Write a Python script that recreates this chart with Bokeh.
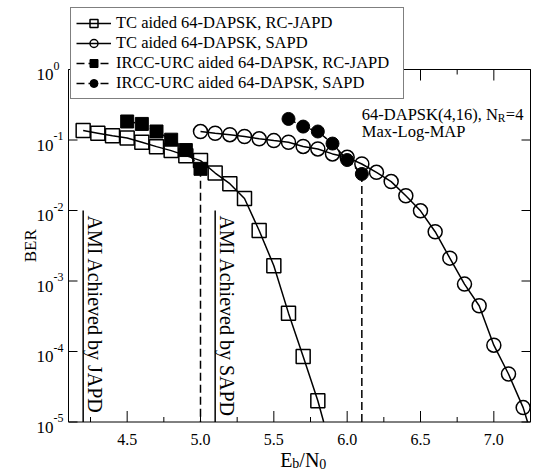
from math import pi, log10
from bokeh.plotting import figure
from bokeh.models import Legend, LegendItem, Range1d
from bokeh.core.properties import value
from bokeh.embed import file_html
from bokeh.resources import INLINE

FONT = "Liberation Serif"

# ---------------- data ----------------
tc_japd_x = [4.2, 4.3, 4.4, 4.5, 4.6, 4.7, 4.8, 4.9, 5.0, 5.1, 5.2, 5.3, 5.4, 5.5, 5.6, 5.7, 5.8]
tc_japd_ber = [0.136, 0.125, 0.115, 0.107, 0.093, 0.0805, 0.0707, 0.060, 0.051, 0.034,
               0.024, 0.0148, 0.0052, 0.00165, 0.00035, 8.5e-5, 2.0e-5]
tc_japd_end = (5.84, 1e-5)

tc_sapd_x = [5.0, 5.1, 5.2, 5.3, 5.4, 5.5, 5.6, 5.7, 5.8, 5.9, 6.0, 6.1, 6.2, 6.3, 6.4,
             6.5, 6.6, 6.7, 6.8, 6.9, 7.0, 7.1, 7.2]
tc_sapd_ber = [0.1316, 0.1245, 0.119, 0.112, 0.104, 0.098, 0.093, 0.081, 0.0747, 0.0635,
               0.0568, 0.0457, 0.0348, 0.0257, 0.0162, 0.0099, 0.0050, 0.00211, 0.000903,
               0.000445, 0.000123, 4.8e-5, 1.6e-5]
tc_sapd_end = (7.23, 1e-5)

ircc_japd_x = [4.5, 4.6, 4.7, 4.8, 4.9, 5.0]
ircc_japd_ber = [0.183, 0.169, 0.132, 0.101, 0.072, 0.039]

ircc_sapd_x = [5.6, 5.7, 5.8, 5.9, 6.0, 6.1]
ircc_sapd_ber = [0.199, 0.155, 0.132, 0.089, 0.052, 0.033]

ami_x = [4.2, 5.1]
ami_top = 1e-2
ami_labels = ["AMI Achieved by JAPD", "AMI Achieved by SAPD"]

legend_labels = ["TC aided 64-DAPSK, RC-JAPD", "TC aided 64-DAPSK, SAPD",
                 "IRCC-URC aided 64-DAPSK, RC-JAPD", "IRCC-URC aided 64-DAPSK, SAPD"]

x_major = [4.5, 5.0, 5.5, 6.0, 6.5, 7.0]
x_major_labels = ["4.5", "5.0", "5.5", "6.0", "6.5", "7.0"]
x_minor = [4.25, 4.75, 5.25, 5.75, 6.25, 6.75, 7.25]
y_ticks = [1e-5, 1e-4, 1e-3, 1e-2, 1e-1, 1.0]
x_lim = (4.1, 7.25)
y_lim = (1e-5, 1.0)

# ---------------- canvas geometry (axes box inside a full-canvas frame) ----------------
W, H = 537, 472
box_left, box_right = 68, 530          # pixels of x_lim
box_top, box_bottom = 69, 421.5        # pixels of y_lim
px_per_x = (box_right - box_left) / (x_lim[1] - x_lim[0])
px_per_dec = (box_bottom - box_top) / (log10(y_lim[1]) - log10(y_lim[0]))
view_x = (x_lim[0] - box_left / px_per_x, x_lim[1] + (W - box_right) / px_per_x)
view_y = (10 ** (log10(y_lim[0]) - (H - box_bottom) / px_per_dec),
          10 ** (log10(y_lim[1]) + box_top / px_per_dec))

p = figure(width=W, height=H, x_range=Range1d(*view_x), y_range=Range1d(*view_y),
           y_axis_type="log", x_axis_location=None, y_axis_location=None,
           output_backend="svg", toolbar_location=None, min_border=0)
p.grid.visible = False
p.outline_line_color = None
p.background_fill_color = "white"
p.border_fill_color = "white"

# ---------------- axes box, ticks and tick labels ----------------
p.line([x_lim[0], x_lim[0], x_lim[1], x_lim[1], x_lim[0]],
       [y_lim[1], y_lim[0], y_lim[0], y_lim[1], y_lim[1]], line_color="black", line_width=1)
for ys, ang in ((y_lim[0], pi / 2), (y_lim[1], -pi / 2)):
    p.ray(x=x_major, y=[ys] * len(x_major), length=11, angle=ang, length_units="screen",
          line_color="black", line_width=1)
    p.ray(x=x_minor, y=[ys] * len(x_minor), length=5, angle=ang, length_units="screen",
          line_color="black", line_width=1)
for xs, ang in ((x_lim[0], 0.0), (x_lim[1], pi)):
    p.ray(x=[xs] * len(y_ticks), y=y_ticks, length=9, angle=ang, length_units="screen",
          line_color="black", line_width=1)

p.text(x=x_major, y=[y_lim[0]] * len(x_major), text=x_major_labels, y_offset=17,
       text_align="center", text_baseline="alphabetic", text_font=value(FONT),
       text_font_size="16px", text_color="black")

y_exponents = [str(int(round(log10(t)))) for t in y_ticks]
p.text(x=[x_lim[0]] * len(y_ticks), y=y_ticks, text=["10"] * len(y_ticks),
       x_offset=-15, y_offset=5, text_align="right", text_baseline="alphabetic",
       text_font=value(FONT), text_font_size="17px", text_color="black")
p.text(x=[x_lim[0]] * len(y_ticks), y=y_ticks, text=y_exponents,
       x_offset=-15, y_offset=-4, text_align="left", text_baseline="alphabetic",
       text_font=value(FONT), text_font_size="12px", text_color="black")

# axis titles
p.text(x=[x_lim[0]], y=[10 ** -2.5], text=["BER"], x_offset=-38, angle=pi / 2,
       text_align="center", text_baseline="middle", text_font=value(FONT),
       text_font_size="17px", text_color="black")
xl_x = 5.7
xl_parts = [("E", -23, 38, "20px"), ("b", -10.8, 41.5, "14px"),
            ("/N", -3.8, 38, "20px"), ("0", 16.2, 41.5, "14px")]
for txt, dx, dy, fs in xl_parts:
    p.text(x=[xl_x], y=[y_lim[0]], text=[txt], x_offset=dx, y_offset=dy,
           text_font=value(FONT), text_font_size=fs, text_color="black",
           text_baseline="alphabetic", text_align="left")

# ---------------- curves ----------------
l1 = p.line(tc_japd_x + [tc_japd_end[0]], tc_japd_ber + [tc_japd_end[1]],
            line_color="black", line_width=1.5)
l2 = p.line(tc_sapd_x + [tc_sapd_end[0]], tc_sapd_ber + [tc_sapd_end[1]],
            line_color="black", line_width=1.5)
l3 = p.line(ircc_japd_x, ircc_japd_ber, line_color="black", line_width=1.5, line_dash="8 4")
l4 = p.line(ircc_sapd_x, ircc_sapd_ber, line_color="black", line_width=1.5, line_dash="8 4")

# threshold drops of the IRCC-URC curves
p.line([ircc_japd_x[-1], ircc_japd_x[-1]], [ircc_japd_ber[-1], y_lim[0]],
       line_color="black", line_width=1.5, line_dash="8 4")
p.line([ircc_sapd_x[-1], ircc_sapd_x[-1]], [ircc_sapd_ber[-1], y_lim[0]],
       line_color="black", line_width=1.5, line_dash="8 4")

# AMI lines
for ax_ in ami_x:
    p.line([ax_, ax_], [ami_top, y_lim[0]], line_color="black", line_width=1.5)

s1 = p.scatter(tc_japd_x, tc_japd_ber, marker="square", size=14, fill_color=None,
               line_color="black", line_width=1.5)
s2 = p.scatter(tc_sapd_x, tc_sapd_ber, marker="circle", size=14, fill_color=None,
               line_color="black", line_width=1.5)
s3 = p.scatter(ircc_japd_x, ircc_japd_ber, marker="square", size=13, fill_color="black",
               line_color="black", line_width=1)
s4 = p.scatter(ircc_sapd_x, ircc_sapd_ber, marker="circle", size=13, fill_color="black",
               line_color="black", line_width=1)

p.text(x=ami_x, y=[ami_top] * len(ami_x), text=ami_labels, angle=-pi / 2,
       text_font=value(FONT), text_font_size="20px", text_align="left",
       text_baseline="bottom", text_color="black", x_offset=1, y_offset=5)

# ---------------- annotation ----------------
ann_x, ann_y1, ann_y2 = 6.1, 0.19, 0.116
ann_parts = [("64-DAPSK(4,16), N", 0, -6, "16.5px"), ("R", 136, -2, "11.5px"),
             ("=4", 144, -6, "16.5px")]
for txt, dx, dy, fs in ann_parts:
    p.text(x=[ann_x], y=[ann_y1], text=[txt], x_offset=dx, y_offset=dy,
           text_font=value(FONT), text_font_size=fs, text_color="black",
           text_baseline="alphabetic", text_align="left")
p.text(x=[ann_x], y=[ann_y2], text=["Max-Log-MAP"], y_offset=-4, text_font=value(FONT),
       text_font_size="16.5px", text_color="black", text_baseline="alphabetic",
       text_align="left")

# ---------------- legend ----------------
items = [LegendItem(label=legend_labels[0], renderers=[l1, s1]),
         LegendItem(label=legend_labels[1], renderers=[l2, s2]),
         LegendItem(label=legend_labels[2], renderers=[l3, s3]),
         LegendItem(label=legend_labels[3], renderers=[l4, s4])]
legend = Legend(items=items, location=(70, 373), orientation="vertical",
                label_text_font=FONT, label_text_font_size="16.5px",
                label_text_color="black", glyph_width=35, glyph_height=20,
                label_height=20, label_width=282, label_standoff=5, padding=5,
                spacing=0, margin=0, border_line_color="black", border_line_width=1,
                background_fill_color="white", background_fill_alpha=1.0)
p.add_layout(legend)

open("out.html", "w").write(file_html(p, INLINE))
